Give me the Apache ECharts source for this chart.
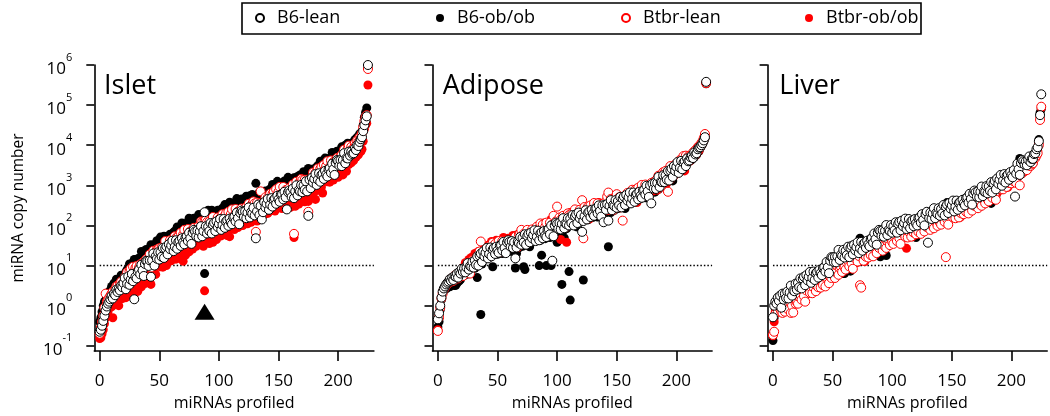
<!DOCTYPE html>
<html><head><meta charset="utf-8">
<script src="https://cdn.jsdelivr.net/npm/echarts@6/dist/echarts.min.js"></script>
<style>html,body{margin:0;padding:0;background:#fff}#c{width:1050px;height:416px}</style>
</head><body><div id="c"></div>
<script>
// Values are log10(miRNA copy number), indexed by miRNA rank (0..225)
const isletB6Lean = [
-0.65,-0.6,-0.5,-0.38,-0.25,-0.12,-0.02,0.05,0.1,0.16,
0.24,0.18,0.3,0.26,0.4,0.34,0.42,0.38,0.5,0.46,
0.56,0.69,0.41,0.55,0.73,0.52,0.65,0.79,0.61,0.16,
0.72,0.68,0.85,0.9,0.78,1.02,0.88,0.74,1.04,1.12,
1.11,0.99,1.13,0.72,1.13,1.3,1.0,1.23,1.17,1.33,
1.15,1.33,1.22,1.44,1.19,1.43,1.48,1.28,1.53,1.41,
1.5,1.62,1.36,1.47,1.63,1.42,1.59,1.62,1.49,1.68,
1.58,1.53,1.7,1.73,1.61,1.82,1.68,1.54,1.82,1.89,
1.85,1.73,1.87,1.7,1.85,1.98,1.73,1.86,2.33,1.98,
1.8,1.97,1.86,2.06,1.8,2.02,2.07,1.86,2.1,1.96,
2.04,2.16,1.89,2.01,2.16,1.94,2.1,2.13,1.99,2.17,
2.08,2.03,2.2,2.22,2.1,2.32,2.18,2.03,2.31,2.37,
2.34,2.21,2.35,2.18,2.32,2.45,2.2,2.33,2.29,2.44,
2.25,1.68,2.35,2.52,2.26,2.49,2.15,2.33,2.58,2.45,
2.54,2.66,2.39,2.52,2.68,2.47,2.64,2.67,2.54,2.74,
2.65,2.59,2.77,2.78,2.65,2.84,2.7,2.4,2.83,2.87,
2.83,2.71,2.92,2.68,2.85,3.0,2.75,2.88,2.85,3.01,
2.83,3.0,2.89,3.1,2.85,2.24,3.14,2.93,3.19,3.07,
3.16,3.28,3.01,3.14,3.3,3.09,3.26,3.29,3.16,3.36,
3.27,3.22,3.4,3.43,3.31,3.54,3.4,3.26,3.56,3.63,
3.61,3.49,3.63,3.48,3.63,3.8,3.55,3.68,3.67,3.84,
3.74,3.84,3.78,3.8,3.92,3.88,4.0,3.98,4.08,4.15,
4.2,4.35,4.5,4.62,4.72,6.0];
const isletB6Ob = [
-0.4,-0.3,-0.15,0.0,0.1,0.14,0.25,0.3,0.35,0.38,
0.48,0.42,0.56,0.5,0.66,0.58,0.64,0.62,0.76,0.68,
0.71,0.68,0.84,0.9,0.8,1.04,0.86,0.83,1.08,1.15,
1.15,1.04,1.17,1.04,1.2,1.35,1.11,1.24,1.23,1.4,
1.23,1.41,1.29,1.52,1.27,1.51,1.5,1.4,1.62,1.49,
1.59,1.71,1.43,1.57,1.73,1.52,1.69,1.72,1.59,1.78,
1.7,1.65,1.83,1.86,1.74,1.96,1.82,1.68,1.98,2.06,
2.04,1.92,2.04,1.9,2.05,2.18,1.93,2.05,2.03,2.18,
2.0,2.17,2.05,2.27,2.01,2.24,2.28,2.06,0.8,2.17,
2.26,2.38,2.1,2.22,2.38,2.15,2.32,2.34,2.2,2.38,
2.28,2.23,2.4,2.43,2.3,2.52,2.38,2.23,2.52,2.58,
2.55,2.42,2.55,2.4,2.54,2.67,2.42,2.54,2.51,2.66,
2.47,2.63,2.52,2.73,2.47,2.69,2.74,2.52,2.77,2.63,
2.71,3.05,2.56,2.67,2.83,2.61,2.78,2.8,2.67,2.86,
2.75,2.7,2.88,2.91,2.8,3.02,2.89,2.75,3.03,3.1,
3.05,2.89,3.04,2.88,3.03,3.11,2.9,3.05,3.2,3.1,
2.92,3.09,2.98,3.19,2.94,3.17,3.22,3.01,3.26,3.13,
3.22,3.34,3.07,3.19,3.35,3.42,3.3,3.34,3.21,3.41,
3.33,3.28,3.46,3.49,3.37,3.6,3.46,3.32,3.61,3.68,
3.65,3.53,3.67,3.52,3.67,3.82,3.57,3.7,3.68,3.85,
3.68,3.85,3.74,3.96,3.71,3.95,4.0,3.79,4.05,3.93,
4.04,3.98,4.06,4.02,4.14,4.1,4.2,4.16,4.28,4.25,
4.35,4.5,4.7,4.82,4.93,5.94];
const isletBtbrLean = [
-0.7,-0.55,-0.4,-0.25,-0.05,0.3,0.1,0.15,0.2,0.25,
0.3,0.35,0.25,0.4,0.48,0.5,0.42,0.55,0.6,0.55,
0.52,0.71,0.58,0.83,0.6,0.85,0.92,0.68,0.97,0.85,
0.94,0.99,0.86,0.95,1.03,0.89,1.07,1.09,0.97,1.16,
1.09,0.98,1.28,0.95,1.14,1.37,1.16,1.16,1.4,1.41,
1.43,1.32,1.45,1.32,1.43,1.61,1.36,1.48,1.46,1.63,
1.45,1.63,1.5,1.73,1.49,1.72,1.72,1.61,1.82,1.69,
1.77,1.89,1.61,1.75,1.91,1.67,1.85,1.87,1.75,1.94,
1.83,1.78,1.95,1.98,1.87,2.1,2.08,1.79,2.12,2.13,
2.08,1.96,2.09,1.94,2.08,2.21,1.96,2.08,2.06,2.2,
2.01,2.18,2.06,2.28,2.02,2.25,2.3,2.07,2.34,2.2,
2.28,2.4,2.11,2.25,2.41,2.17,2.35,2.36,2.24,2.42,
2.32,2.26,2.43,2.46,2.33,2.54,2.4,2.24,2.54,2.6,
2.55,1.84,2.57,2.4,2.55,2.85,2.45,2.55,2.56,2.7,
2.52,2.69,2.56,2.79,2.56,2.79,2.84,2.61,2.9,2.77,
2.84,2.96,2.68,2.8,2.96,2.7,2.88,2.89,2.77,2.93,
2.82,2.78,3.02,1.79,2.87,3.09,2.95,2.8,3.09,3.16,
3.13,3.01,3.14,2.99,3.14,2.34,3.04,3.17,3.15,3.32,
3.14,3.31,3.19,3.42,3.17,3.41,3.46,3.24,3.51,3.39,
3.48,3.6,3.32,3.46,3.62,3.41,3.58,3.6,3.49,3.68,
3.6,3.55,3.72,3.76,3.64,3.89,3.75,3.6,3.91,3.99,
3.86,3.96,3.9,3.92,4.04,4.0,4.12,4.08,4.2,4.18,
4.3,4.45,4.6,4.7,4.75,5.9];
const isletBtbrOb = [
-0.82,-0.8,-0.7,-0.6,-0.45,-0.3,-0.22,-0.15,-0.05,-0.02,
-0.03,-0.3,0.02,0.05,0.1,0.12,0.0,0.15,0.2,0.18,
0.22,0.25,0.2,0.28,0.3,0.27,0.35,0.3,0.26,0.28,
0.51,0.64,0.36,0.49,0.66,0.47,0.64,0.67,0.55,0.76,
0.71,0.68,0.84,0.53,0.76,1.0,0.81,0.78,1.03,1.1,
1.08,0.97,1.1,0.96,1.11,1.25,1.0,1.13,1.13,1.3,
1.12,1.3,1.18,1.41,1.16,1.37,1.43,1.21,1.48,1.35,
1.11,1.54,1.26,1.4,1.56,1.34,1.52,1.53,1.41,1.61,
1.52,1.48,1.65,1.68,1.56,1.72,1.62,1.48,0.37,1.81,
1.64,1.6,1.55,1.66,1.62,1.58,1.68,1.7,1.65,1.72,
1.76,1.8,1.74,1.82,1.85,1.78,1.88,1.75,1.9,1.72,
2.03,1.92,2.04,1.9,2.05,2.2,1.95,2.05,2.06,2.22,
2.0,2.19,2.06,2.29,2.04,2.27,2.32,2.08,2.37,2.19,
2.17,2.19,2.11,2.25,2.41,2.19,2.36,2.37,2.27,2.46,
2.33,2.3,2.45,2.51,2.39,2.61,2.41,2.36,2.6,2.6,
2.55,2.44,2.57,2.42,2.58,2.65,2.44,2.5,2.54,2.65,
2.45,2.65,2.56,1.7,2.48,2.72,2.77,2.53,2.82,2.69,
2.76,2.88,2.59,2.73,2.89,2.6,2.82,2.84,2.73,2.92,
2.83,2.65,2.96,2.99,2.88,3.1,2.96,2.81,3.13,3.21,
3.21,3.09,3.22,3.08,3.23,3.38,3.13,3.25,3.24,3.4,
3.2,3.38,3.26,3.5,3.26,3.5,3.56,3.35,3.62,3.52,
3.62,3.56,3.64,3.62,3.74,3.7,3.8,3.76,3.86,3.84,
3.9,4.1,4.4,4.5,4.55,5.5];

const adiposeB6Lean = [
-0.34,-0.19,0.0,0.2,0.35,0.43,0.48,0.53,0.57,0.6,
0.66,0.62,0.7,0.64,0.74,0.72,0.8,0.7,0.84,0.8,
0.92,0.84,0.93,0.83,0.95,1.06,0.9,0.99,0.97,1.09,
0.95,1.13,1.02,1.23,1.0,1.25,1.3,1.09,1.35,1.23,
1.32,1.44,1.18,1.29,1.45,1.23,1.4,1.44,1.29,1.47,
1.37,1.32,1.5,1.51,1.38,1.59,1.44,1.31,1.58,1.63,
1.59,1.47,1.61,1.44,1.58,1.18,1.45,1.59,1.56,1.71,
1.52,1.69,1.58,1.78,1.52,1.74,1.79,1.58,1.82,1.68,
1.76,1.88,1.61,1.72,1.87,1.63,1.8,1.83,1.68,1.86,
1.75,1.71,1.89,1.91,1.78,2.0,1.12,1.73,2.0,2.07,
2.04,1.92,2.06,1.9,2.04,2.18,1.93,2.05,2.03,2.18,
2.0,2.17,2.06,2.26,2.0,2.23,2.28,2.06,2.32,2.18,
2.26,1.84,2.11,2.23,2.38,2.15,2.32,2.35,2.21,2.39,
2.29,2.24,2.42,2.43,2.3,2.5,2.36,2.22,2.5,2.08,
2.51,2.39,2.53,2.12,2.49,2.63,2.38,2.51,2.48,2.63,
2.44,2.61,2.5,2.71,2.45,2.67,2.72,2.51,2.76,2.62,
2.7,2.82,2.55,2.67,2.82,2.59,2.76,2.79,2.65,2.84,
2.74,2.69,2.87,2.89,2.77,2.99,2.85,2.71,3.0,2.55,
3.04,2.92,3.06,2.91,3.06,3.21,2.96,3.09,3.08,3.25,
3.08,3.25,3.14,3.36,3.12,3.37,3.42,3.21,3.48,3.36,
3.46,3.58,3.31,3.44,3.61,3.4,3.57,3.6,3.48,3.67,
3.6,3.62,3.7,3.74,3.68,3.82,3.77,3.8,3.9,3.94,
3.95,4.0,4.05,4.12,4.2,5.58];
const adiposeB6Ob = [
-0.53,-0.4,-0.1,0.15,0.3,0.4,0.45,0.42,0.45,0.48,
0.47,0.5,0.55,0.52,0.5,0.51,0.56,0.6,0.62,0.65,
0.82,0.94,0.75,0.85,1.01,0.79,0.97,1.06,0.89,1.06,
0.97,0.93,1.18,0.7,1.04,1.27,-0.22,1.04,1.3,1.33,
1.3,1.19,1.39,1.2,1.31,1.47,0.97,1.38,1.31,1.48,
1.28,1.45,1.34,1.55,1.3,1.52,1.53,1.4,1.6,1.43,
1.49,1.62,1.35,1.47,1.63,0.94,1.3,1.62,1.44,1.63,
1.53,1.48,0.97,0.9,1.54,1.75,1.62,1.47,1.75,1.81,
1.73,1.64,1.78,1.62,1.77,1.0,1.63,1.26,1.72,1.88,
1.67,1.0,1.76,1.95,1.7,1.0,1.95,1.76,2.0,1.87,
1.58,2.08,1.81,1.94,0.53,1.86,1.69,2.07,1.92,2.11,
0.85,0.14,2.15,2.14,2.02,2.24,2.1,1.96,2.23,2.3,
2.26,2.14,0.64,2.44,2.25,2.39,2.14,2.27,2.24,2.4,
2.2,2.38,2.27,2.47,2.21,2.43,2.55,2.28,2.52,2.35,
2.44,2.56,2.29,1.47,2.55,2.32,2.49,2.52,2.38,2.56,
2.47,2.42,2.6,2.61,2.49,2.7,2.56,2.42,2.7,2.76,
2.71,2.6,2.74,2.58,2.73,2.85,2.6,2.73,2.71,2.86,
2.67,2.84,2.73,2.94,2.69,2.92,2.97,2.76,3.02,2.89,
2.97,3.09,2.83,2.95,3.11,2.9,3.08,3.09,2.99,3.18,
3.1,3.06,3.23,3.28,3.16,3.4,3.26,3.11,3.41,3.49,
3.48,3.36,3.5,3.35,3.51,3.66,3.41,3.54,3.52,3.68,
3.58,3.68,3.62,3.64,3.74,3.7,3.8,3.76,3.86,3.85,
3.93,3.98,4.03,4.1,4.17,5.53];
const adiposeBtbrLean = [
-0.63,-0.3,-0.05,0.18,0.3,0.4,0.46,0.5,0.55,0.58,
0.64,0.6,0.68,0.62,0.74,0.7,0.78,0.68,0.82,0.78,
0.79,0.74,0.93,0.95,0.84,1.07,0.93,0.8,1.07,1.14,
1.14,1.04,1.17,1.02,1.19,1.35,1.6,1.23,1.21,1.38,
1.2,1.38,1.27,1.48,1.23,1.47,1.57,1.31,1.54,1.41,
1.49,1.61,1.34,1.45,1.61,1.37,1.54,1.57,1.43,1.61,
1.51,1.46,1.62,1.66,1.54,1.72,1.59,1.46,1.78,1.81,
1.89,1.64,1.79,1.62,1.76,1.89,1.64,1.77,1.74,1.9,
1.7,1.87,1.76,1.97,1.71,1.93,2.05,1.76,2.02,1.87,
1.96,2.07,1.81,1.92,2.07,1.85,2.02,2.24,1.91,2.1,
2.47,1.94,2.2,2.14,2.02,2.24,2.1,1.95,2.24,2.3,
2.26,2.14,2.28,2.12,2.26,2.4,2.14,2.27,2.24,2.39,
2.2,2.63,1.68,2.46,2.2,2.42,2.47,2.26,2.5,2.37,
2.44,2.56,2.29,2.4,2.55,2.32,2.48,2.51,2.37,2.55,
2.45,2.38,2.72,2.82,2.44,2.66,2.52,2.38,2.66,2.72,
2.78,2.56,2.7,2.45,2.68,2.12,2.56,2.69,2.66,2.81,
2.62,2.79,2.68,2.89,2.63,2.85,2.9,2.69,2.94,2.81,
2.89,3.01,2.74,2.86,3.02,2.8,2.97,3.0,2.87,3.06,
2.97,2.92,3.1,3.13,3.02,3.24,3.11,2.96,3.26,3.33,
3.3,3.36,3.32,2.84,3.33,3.48,3.24,3.37,3.36,3.52,
3.35,3.52,3.41,3.63,3.39,3.63,3.73,3.47,3.74,3.61,
3.72,3.66,3.74,3.7,3.82,3.78,3.88,3.84,3.95,3.98,
3.99,4.05,4.1,4.18,4.28,5.55];
const adiposeBtbrOb = [
-0.6,-0.25,-0.05,0.2,0.35,0.42,0.47,0.52,0.56,0.6,
0.58,0.68,0.6,0.72,0.66,0.78,0.7,0.76,0.74,0.86,
0.76,0.95,0.86,1.07,0.84,1.09,1.15,0.95,1.2,1.07,
1.18,1.3,1.03,1.17,1.35,1.17,1.34,1.37,1.24,1.44,
1.38,1.32,1.5,1.52,1.39,1.6,1.42,1.36,1.59,1.63,
1.58,1.46,1.6,1.43,1.57,1.7,1.44,1.57,1.53,1.68,
1.48,1.65,1.54,1.75,1.49,1.71,1.76,1.55,1.79,1.65,
1.74,1.85,1.59,1.7,1.85,1.62,1.79,1.82,1.68,1.86,
1.77,1.72,1.9,1.92,1.79,2.0,1.86,1.72,2.0,2.06,
2.02,1.9,2.04,1.88,2.02,2.15,1.9,2.03,2.0,2.15,
1.95,2.12,2.01,1.65,1.96,2.19,2.23,2.02,1.58,2.13,
2.21,2.32,2.06,2.17,2.32,2.09,2.26,2.29,2.14,2.32,
2.22,2.16,2.35,2.36,2.23,2.44,2.3,2.16,2.43,2.49,
2.45,2.32,2.47,2.3,2.44,2.57,2.32,2.45,2.41,2.56,
2.36,2.53,2.42,2.63,2.37,2.59,2.64,2.43,2.67,2.53,
2.6,2.72,2.45,2.57,2.72,2.49,2.66,2.69,2.55,2.73,
2.62,2.57,2.75,2.77,2.64,2.85,2.71,2.57,2.85,2.91,
2.86,2.74,2.88,2.73,2.88,3.01,2.76,2.89,2.86,3.02,
2.85,3.02,2.91,3.13,2.88,3.12,3.17,2.96,3.22,3.1,
3.2,3.32,3.05,3.18,3.35,3.14,3.32,3.35,3.23,3.43,
3.35,3.3,3.48,3.51,3.4,3.63,3.5,3.36,3.65,3.73,
3.66,3.6,3.68,3.66,3.76,3.72,3.82,3.78,3.88,3.86,
3.94,3.99,4.04,4.11,4.19,5.54];

const liverB6Lean = [
-0.29,0.0,0.1,0.05,0.2,0.12,0.25,-0.05,0.3,0.15,
0.3,0.19,0.35,0.18,0.33,0.5,0.25,0.38,0.36,0.55,
0.4,0.57,0.46,0.68,0.43,0.67,0.72,0.51,0.76,0.63,
0.72,0.84,0.57,0.69,0.85,0.64,0.81,0.84,0.7,0.89,
0.81,0.76,0.94,0.96,0.85,1.09,0.96,0.81,1.12,1.21,
1.2,1.09,1.22,1.08,1.23,1.39,1.14,1.27,1.24,1.39,
1.2,1.37,1.26,1.47,1.21,1.44,1.49,1.28,1.52,1.38,
1.46,1.58,1.31,1.43,1.59,1.37,1.54,1.57,1.44,1.62,
1.53,1.48,1.66,1.69,1.57,1.8,1.66,1.52,1.82,1.89,
1.86,1.74,1.88,1.72,1.87,2.01,1.76,1.89,1.86,2.01,
1.82,1.98,1.88,2.08,1.82,2.04,2.09,1.88,2.12,1.98,
2.06,2.17,1.91,2.01,2.16,1.93,2.1,2.13,1.98,2.16,
2.05,2.0,2.18,2.2,2.07,2.28,2.14,2.0,2.28,2.34,
1.57,2.18,2.32,2.16,2.3,2.43,2.18,2.31,2.28,2.43,
2.24,2.41,2.3,2.51,2.25,2.47,2.52,2.31,2.56,2.42,
2.5,2.62,2.35,2.47,2.62,2.39,2.56,2.59,2.45,2.64,
2.55,2.5,2.68,2.7,2.57,2.79,2.66,2.52,2.8,2.87,
2.83,2.72,2.85,2.7,2.84,2.97,2.73,2.85,2.83,2.98,
2.8,2.98,2.86,3.08,2.82,3.05,3.11,2.9,3.17,3.04,
3.14,3.26,2.99,3.12,3.28,3.07,3.24,3.27,3.14,3.33,
3.25,3.2,3.38,2.72,3.29,3.54,3.4,3.26,3.56,3.63,
3.6,3.52,3.6,3.5,3.64,3.72,3.58,3.66,3.66,3.78,
3.8,3.9,3.95,4.1,4.75,5.27];
const liverB6Ob = [
-0.87,-0.3,-0.1,-0.08,0.0,-0.05,0.1,-0.12,0.12,0.02,
0.14,0.22,0.03,0.12,0.23,0.05,0.22,0.24,0.11,0.31,
0.25,0.2,0.38,0.41,0.3,0.52,0.39,0.24,0.53,0.6,
0.58,0.46,0.6,0.45,0.6,0.75,0.5,0.63,0.61,0.77,
0.58,0.75,0.64,0.85,0.61,0.85,0.9,0.69,0.95,0.83,
0.94,1.07,0.79,0.92,1.09,0.87,1.04,1.07,0.85,0.8,
0.8,0.98,1.15,1.18,1.07,0.86,1.14,1.0,1.28,1.35,
1.32,1.2,1.34,1.68,1.33,1.47,1.23,1.35,1.34,1.5,
1.32,1.5,1.38,1.61,1.36,1.59,1.65,1.43,1.7,1.57,
1.22,1.79,1.51,1.65,1.81,1.25,1.76,1.79,1.65,1.84,
1.74,1.68,1.87,1.88,1.75,1.97,1.83,1.69,1.96,2.02,
1.98,1.86,2.0,1.83,1.97,2.1,1.85,1.98,1.94,2.09,
1.7,2.05,1.95,2.15,1.89,2.12,2.17,1.96,2.2,2.07,
2.15,2.27,2.0,2.12,2.27,2.04,2.21,2.24,2.1,2.28,
2.18,2.13,2.31,2.33,2.2,2.41,2.57,2.13,2.41,2.47,
2.43,2.31,2.45,2.29,2.43,2.57,2.32,2.45,2.42,2.58,
2.4,2.57,2.46,2.67,2.42,2.65,2.7,2.49,2.74,2.61,
2.7,2.82,2.55,2.67,2.83,2.61,2.78,2.81,2.67,2.86,
2.75,2.71,2.88,2.55,2.78,3.01,2.88,2.74,3.03,3.11,
3.08,2.97,3.1,2.96,3.11,3.26,3.01,3.14,3.12,3.28,
3.1,3.28,3.17,3.39,3.14,3.39,3.45,3.67,3.5,3.39,
3.5,3.58,3.4,3.5,3.62,3.48,3.6,3.62,3.55,3.7,
3.72,3.8,3.86,4.14,4.81,4.9];
const liverBtbrLean = [
-0.73,-0.65,-0.2,-0.02,-0.15,0.05,-0.08,-0.15,-0.18,0.0,
-0.15,0.05,-0.05,-0.1,0.1,-0.18,0.0,-0.17,0.15,0.05,
0.09,0.05,0.22,0.26,0.15,0.37,0.24,0.1,0.38,0.45,
0.44,0.32,0.46,0.31,0.46,0.6,0.36,0.49,0.46,0.62,
0.45,0.62,0.51,0.73,0.48,0.71,0.77,0.56,0.82,0.69,
0.84,0.97,0.69,0.83,0.99,0.77,0.94,0.97,0.84,1.03,
0.95,0.9,1.07,1.11,0.98,1.2,1.06,0.92,1.2,1.26,
1.22,1.1,1.24,0.51,0.45,1.37,1.12,1.25,1.22,1.38,
1.2,1.37,1.26,1.48,1.23,1.47,1.52,1.31,1.57,1.44,
1.52,1.64,1.37,1.5,1.66,1.44,1.61,1.64,1.51,1.69,
1.59,1.54,1.72,1.74,1.61,1.82,1.68,1.54,1.82,1.88,
1.84,1.72,1.86,1.7,1.84,1.97,1.72,1.85,1.82,1.97,
1.78,1.95,1.84,2.05,1.79,2.01,2.06,1.85,2.1,1.96,
2.04,2.16,1.89,2.01,2.16,1.93,2.1,2.13,1.99,2.17,
2.07,2.02,2.2,2.22,2.09,1.21,2.16,2.02,2.3,2.36,
2.32,2.2,2.34,2.18,2.32,2.45,2.2,2.33,2.3,2.46,
2.28,2.45,2.34,2.55,2.3,2.53,2.58,2.37,2.62,2.49,
2.58,2.7,2.43,2.55,2.71,2.49,2.66,2.69,2.55,2.74,
2.65,2.6,2.78,2.81,2.69,2.92,2.79,2.64,2.94,3.03,
3.01,2.9,3.04,2.9,3.05,3.2,2.96,3.09,3.06,3.22,
3.05,3.2,3.1,3.31,3.06,3.31,3.37,3.0,3.42,3.3,
3.42,3.35,3.4,3.38,3.5,3.55,3.48,3.52,3.55,3.66,
3.68,3.74,3.8,4.0,4.63,4.96];
const liverBtbrOb = [
-0.75,-0.4,-0.15,0.05,-0.1,0.08,-0.05,-0.08,0.1,0.0,
-0.05,0.13,0.04,0.23,-0.02,0.22,0.27,0.06,0.32,0.19,
0.28,0.41,0.13,0.27,0.43,0.22,0.39,0.42,0.29,0.48,
0.39,0.34,0.52,0.55,0.43,0.65,0.52,0.38,0.66,0.73,
0.71,0.59,0.73,0.58,0.73,0.87,0.63,0.76,0.74,0.9,
0.76,0.94,0.82,1.05,0.8,1.03,1.08,0.87,1.12,0.99,
1.08,1.2,0.93,1.05,1.21,0.99,1.16,1.19,1.05,1.23,
1.13,1.08,1.26,1.28,1.16,1.38,1.24,1.1,1.38,1.45,
1.43,1.31,1.45,1.3,1.45,1.6,1.35,1.48,1.46,1.62,
1.44,1.61,1.5,1.72,1.47,1.7,1.75,1.54,1.79,1.65,
1.74,1.86,1.59,1.71,1.86,1.63,1.8,1.83,1.69,1.87,
1.77,1.72,1.43,1.92,1.79,2.0,1.86,1.72,2.0,2.06,
2.02,1.9,2.04,1.88,2.02,2.15,1.9,2.03,2.0,2.15,
1.96,2.13,2.02,2.23,1.97,2.19,2.24,2.03,2.28,2.14,
2.22,2.34,2.07,2.19,2.34,2.11,2.28,2.31,2.17,2.35,
2.25,2.2,2.38,2.4,2.27,2.48,2.34,2.2,2.48,2.55,
2.52,2.4,2.54,2.38,2.53,2.67,2.42,2.55,2.52,2.68,
2.5,2.67,2.56,2.77,2.52,2.75,2.8,2.59,2.84,2.71,
2.8,2.92,2.65,2.78,2.94,2.73,2.91,2.93,2.81,3.02,
2.93,2.89,3.07,3.11,2.99,3.22,3.09,2.95,3.24,3.31,
3.29,3.17,3.31,3.16,3.31,3.47,3.23,3.35,3.34,3.51,
3.4,3.52,3.45,3.56,3.5,3.6,3.62,3.54,3.68,3.7,
3.74,3.8,3.86,4.05,4.7,4.93];

const panelTitles = ['Islet', 'Adipose', 'Liver'];
const seriesNames = ['B6-lean', 'B6-ob/ob', 'Btbr-lean', 'Btbr-ob/ob'];
const yTickExponents = [-1, 0, 1, 2, 3, 4, 5, 6];
const xTickValues = [0, 50, 100, 150, 200];
const detectionLimitLog = 1;          // 10 copies
const isletFlagMarker = [[88, -0.15]]; // black triangle annotation
const panelData = [
  [isletB6Lean, isletB6Ob, isletBtbrLean, isletBtbrOb],
  [adiposeB6Lean, adiposeB6Ob, adiposeBtbrLean, adiposeBtbrOb],
  [liverB6Lean, liverB6Ob, liverBtbrLean, liverBtbrOb]
];

const FONT = 'Open Sans';
const RED = '#ff0000';
const styles = {
  'B6-lean':   { color: '#ffffff', borderColor: '#000000', borderWidth: 1, opacity: 1 },
  'B6-ob/ob':  { color: '#000000', borderColor: '#000000', borderWidth: 0, opacity: 1 },
  'Btbr-lean': { color: '#ffffff', borderColor: RED, borderWidth: 1, opacity: 1 },
  'Btbr-ob/ob':{ color: RED, borderColor: RED, borderWidth: 0, opacity: 1 }
};
const drawOrder = [1, 3, 2, 0]; // black, red filled, red open, white on top
const gridLefts = [94.3, 432.5, 767.6];

const grids = gridLefts.map(l => ({ left: l, width: 279.6, top: 65, height: 286 }));
const xAxes = grids.map((g, k) => ({
  type: 'value', gridIndex: k, min: -4.5, max: 230,
  splitLine: { show: false },
  axisLine: { show: true, onZero: false, lineStyle: { color: '#000', width: 1.6 } },
  axisTick: { show: true, length: 10, customValues: xTickValues, lineStyle: { color: '#000', width: 1.6 } },
  axisLabel: { customValues: xTickValues, color: '#000', fontSize: 17, fontFamily: FONT, margin: 22 },
  name: 'miRNAs profiled', nameLocation: 'middle', nameGap: 44,
  nameTextStyle: { color: '#000', fontSize: 16, fontFamily: FONT }
}));
const yAxes = grids.map((g, k) => ({
  type: 'value', gridIndex: k, min: -1.13, max: 6,
  splitLine: { show: false },
  axisLine: { show: true, onZero: false, lineStyle: { color: '#000', width: 1.6 } },
  axisTick: { show: true, length: 8, customValues: yTickExponents, lineStyle: { color: '#000', width: 1.6 } },
  axisLabel: {
    show: k === 0, customValues: yTickExponents, margin: 22, color: '#000',
    formatter: v => '{b|10}{e|' + v + '}',
    rich: {
      b: { fontSize: 17, lineHeight: 26, verticalAlign: 'bottom', fontFamily: FONT, color: '#000' },
      e: { fontSize: 11, lineHeight: 12, verticalAlign: 'top', fontFamily: FONT, color: '#000' }
    }
  },
  name: k === 0 ? 'miRNA copy number' : '', nameLocation: 'middle', nameGap: 68, nameRotate: 90,
  nameTextStyle: { color: '#000', fontSize: 15.5, fontFamily: FONT }
}));

const series = [];
panelData.forEach((arrs, k) => {
  series.push({
    type: 'line', xAxisIndex: k, yAxisIndex: k, silent: true, symbol: 'none', z: 1,
    data: [[0, detectionLimitLog], [230, detectionLimitLog]],
    lineStyle: { color: '#000', width: 1.5, type: [1.5, 2] }
  });
  drawOrder.forEach(s => {
    series.push({
      type: 'scatter', name: seriesNames[s], xAxisIndex: k, yAxisIndex: k, clip: false,
      symbol: 'circle', symbolSize: 9, z: 2,
      itemStyle: styles[seriesNames[s]],
      emphasis: { disabled: true },
      data: arrs[s].map((v, i) => [i, v])
    });
  });
});
series.push({
  type: 'scatter', xAxisIndex: 0, yAxisIndex: 0, symbol: 'triangle', symbolSize: [20, 16], z: 3,
  itemStyle: { color: '#000', opacity: 1 }, data: isletFlagMarker
});

const legendLefts = [255, 436, 621, 805];
const legends = seriesNames.map((n, k) => ({
  data: [n], left: legendLefts[k], top: 9, padding: 0, itemWidth: 8, itemHeight: 8,
  selectedMode: false,
  textStyle: { fontSize: 18, fontFamily: FONT, color: '#000', padding: [0, 0, 0, 8] }
}));

const titleLefts = [104, 442.7, 779.3];
const titles = panelTitles.map((t, k) => ({
  text: t, left: titleLefts[k], top: 73, padding: 0,
  textStyle: { fontSize: 27, fontWeight: 'normal', fontFamily: FONT, color: '#000' }
}));

const chart = echarts.init(document.getElementById('c'), null, { renderer: 'canvas' });
chart.setOption({
  animation: false,
  backgroundColor: '#fff',
  title: titles,
  legend: legends,
  grid: grids,
  xAxis: xAxes,
  yAxis: yAxes,
  series: series,
  graphic: [{
    type: 'rect', shape: { x: 242, y: 3, width: 679, height: 31 },
    style: { fill: 'none', stroke: '#000', lineWidth: 1.6 }, z: 0
  }]
});
</script></body></html>
